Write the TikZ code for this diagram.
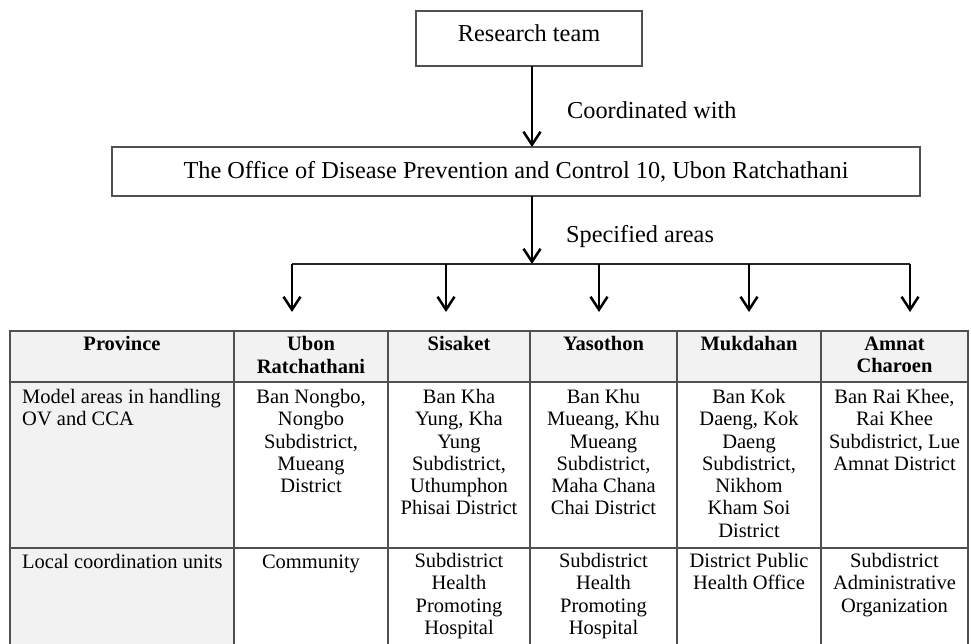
\documentclass[tikz,border=0pt]{standalone}
\usepackage{fontspec}
\setmainfont{Liberation Serif}
\usetikzlibrary{arrows.meta}
\definecolor{cellgray}{HTML}{F2F2F2}
\definecolor{rule}{HTML}{505050}
\begin{document}
\begin{tikzpicture}[x=1pt,y=-1pt,
  box/.style={draw=rule,line width=1.3pt,inner sep=0pt,font=\fontsize{24.3}{28}\selectfont},
  arr/.style={line width=2.5pt,-{Straight Barb[length=13pt,width=17pt,line width=2.5pt]}},
  bar/.style={draw=black!85,line width=2pt},
  lbl/.style={anchor=west,inner sep=0pt,font=\fontsize{24.3}{28}\selectfont},
  tcell/.style={inner sep=0pt,font=\fontsize{20.5}{22.3}\selectfont,execute at begin node=\strut},
  hd/.style={tcell,anchor=north,align=center,font=\fontsize{20.5}{22.3}\selectfont\bfseries},
  cell/.style={tcell,anchor=north,align=center},
  lcell/.style={tcell,anchor=north west,align=left},
  grid/.style={draw=rule,line width=1.3pt}]
\useasboundingbox (0,0) rectangle (971,644);

% top flow
\node[box,minimum width=226pt,minimum height=55pt,text depth=11pt] (rt) at (529,38.5) {Research team};
\node[box,minimum width=808pt,minimum height=49pt] (office) at (516,171.5) {The Office of Disease Prevention and Control 10, Ubon Ratchathani};
\coordinate (a1) at (532,66);
\coordinate (a2) at (532,147);
\draw[arr] (a1) -- (a2);
\node[lbl] (coord) at (567,110) {Coordinated with};
\coordinate (a3) at (532,196);
\coordinate (hub) at (532,264);
\draw[arr] (a3) -- (hub);
\node[lbl] (spec) at (566,237) {Specified areas};
\coordinate (b1) at (292,264);
\coordinate (b2) at (446,264);
\coordinate (b3) at (599,264);
\coordinate (b4) at (749,264);
\coordinate (b5) at (910,264);
\coordinate (t1) at (292,312);
\coordinate (t2) at (446,312);
\coordinate (t3) at (599,312);
\coordinate (t4) at (749,312);
\coordinate (t5) at (910,312);
\draw[bar] (b1) -- (b5);
\draw[arr] (b1) -- (t1);
\draw[arr] (b2) -- (t2);
\draw[arr] (b3) -- (t3);
\draw[arr] (b4) -- (t4);
\draw[arr] (b5) -- (t5);

% table
\fill[cellgray] (10,331) rectangle (968,382);
\fill[cellgray] (10,382) rectangle (234,650);
\draw[grid] (10,650) -- (10,331) -- (968,331) -- (968,650);
\draw[grid] (10,382) -- (968,382);
\draw[grid] (10,548) -- (968,548);
\foreach \x in {234,388,530,677,821}{\draw[grid] (\x,331) -- (\x,650);}

% header
\node[hd] (h1) at (122,334.5) {Province};
\node[hd] (h2) at (311,336.5) {Ubon\\Ratchathani};
\node[hd] (h3) at (459,334.5) {Sisaket};
\node[hd] (h4) at (603.5,334.5) {Yasothon};
\node[hd] (h5) at (749,334.5) {Mukdahan};
\node[hd] (h6) at (894.5,336.5) {Amnat\\Charoen};

% row 2
\node[lcell] (r1c1) at (22,389) {Model areas in handling\\OV and CCA};
\node[cell] (r1c2) at (311,389) {Ban Nongbo,\\Nongbo\\Subdistrict,\\Mueang\\District};
\node[cell] (r1c3) at (459,389) {Ban Kha\\Yung, Kha\\Yung\\Subdistrict,\\Uthumphon\\Phisai District};
\node[cell] (r1c4) at (603.5,389) {Ban Khu\\Mueang, Khu\\Mueang\\Subdistrict,\\Maha Chana\\Chai District};
\node[cell] (r1c5) at (749,389) {Ban Kok\\Daeng, Kok\\Daeng\\Subdistrict,\\Nikhom\\Kham Soi\\District};
\node[cell] (r1c6) at (894.5,389) {Ban Rai Khee,\\Rai Khee\\Subdistrict, Lue\\Amnat District};

% row 3
\node[lcell] (r2c1) at (22,553) {Local coordination units};
\node[cell] (r2c2) at (311,553) {Community};
\node[cell] (r2c3) at (459,553) {Subdistrict\\Health\\Promoting\\Hospital};
\node[cell] (r2c4) at (603.5,553) {Subdistrict\\Health\\Promoting\\Hospital};
\node[cell] (r2c5) at (749,553) {District Public\\Health Office};
\node[cell] (r2c6) at (894.5,553) {Subdistrict\\Administrative\\Organization};
\end{tikzpicture}
\end{document}
